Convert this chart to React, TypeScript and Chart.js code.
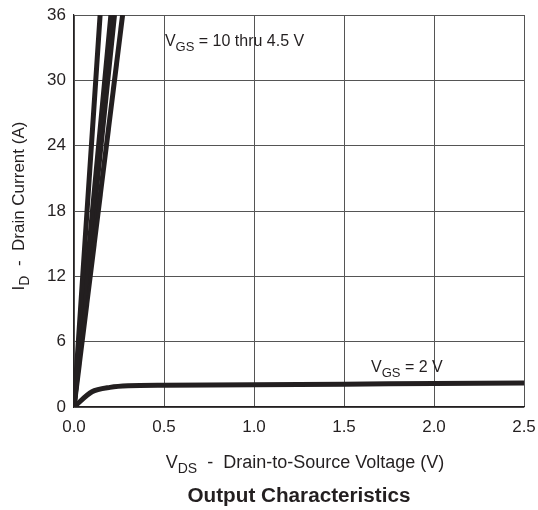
import React, { useEffect, useRef } from "react";
import { Chart, registerables } from "chart.js";

Chart.register(...registerables);

// Steep curves (VGS = 10 thru 4.5 V): drain voltage at which each reaches 36 A
const steepVds = [0, 0.145];
const steepVds2 = [0, 0.205];
const steepVds3 = [0, 0.225];
const steepVds4 = [0, 0.27];
const steepId = [0, 36];

// VGS = 2 V curve
const lowVds = [0, 0.1, 0.2, 0.3, 0.5, 1.0, 1.5, 2.0, 2.5];
const lowId = [0, 1.4, 1.8, 1.95, 2.0, 2.05, 2.1, 2.15, 2.2];

const xTicks = [0, 0.5, 1.0, 1.5, 2.0, 2.5];
const yTicks = [0, 6, 12, 18, 24, 30, 36];

const INK = "#231f20";
const FONT = "'Liberation Sans', Arial, Helvetica, sans-serif";

function pts(xs: number[], ys: number[]) {
  return xs.map((x, i) => ({ x, y: ys[i] }));
}

function drawSub(
  ctx: CanvasRenderingContext2D,
  x: number,
  y: number,
  main: string,
  sub: string,
  rest: string,
  size: number
) {
  ctx.font = `${size}px ${FONT}`;
  ctx.fillText(main, x, y);
  let w = ctx.measureText(main).width;
  ctx.font = `${Math.round(size * 0.8)}px ${FONT}`;
  ctx.fillText(sub, x + w, y + size * 0.3);
  w += ctx.measureText(sub).width;
  ctx.font = `${size}px ${FONT}`;
  ctx.fillText(rest, x + w, y);
}

function measureSub(ctx: CanvasRenderingContext2D, main: string, sub: string, rest: string, size: number) {
  ctx.font = `${size}px ${FONT}`;
  let w = ctx.measureText(main).width + ctx.measureText(rest).width;
  ctx.font = `${Math.round(size * 0.8)}px ${FONT}`;
  w += ctx.measureText(sub).width;
  return w;
}

const textPlugin = {
  id: "texts",
  afterDraw(chart: any) {
    const ctx: CanvasRenderingContext2D = chart.ctx;
    const xs = chart.scales.x;
    const ys = chart.scales.y;
    const area = chart.chartArea;
    ctx.save();
    ctx.fillStyle = INK;
    ctx.textBaseline = "alphabetic";
    ctx.textAlign = "left";
    // annotations
    drawSub(ctx, xs.getPixelForValue(0.505), ys.getPixelForValue(33.15), "V", "GS", " = 10 thru 4.5 V", 16);
    drawSub(ctx, xs.getPixelForValue(1.65), ys.getPixelForValue(3.2), "V", "GS", " = 2 V", 16);

    // x axis title
    const cx = (area.left + area.right) / 2;
    const xt = ["V", "DS", "  -  Drain-to-Source Voltage (V)"] as const;
    const wx = measureSub(ctx, xt[0], xt[1], xt[2], 18);
    drawSub(ctx, cx - wx / 2 + 6, 468, xt[0], xt[1], xt[2], 18);

    // y axis title
    const cy = (area.top + area.bottom) / 2 - 5;
    const yt = ["I", "D", "  -  Drain Current (A)"] as const;
    const wy = measureSub(ctx, yt[0], yt[1], yt[2], 17);
    ctx.save();
    ctx.translate(24, cy);
    ctx.rotate(-Math.PI / 2);
    drawSub(ctx, -wy / 2, 0, yt[0], yt[1], yt[2], 17);
    ctx.restore();

    // chart title
    ctx.font = `bold 20.7px ${FONT}`;
    ctx.textAlign = "center";
    ctx.fillText("Output Characteristics", cx, 502);
    ctx.restore();
  },
};

export default function App() {
  const ref = useRef<HTMLCanvasElement>(null);
  useEffect(() => {
    document.body.style.margin = "0";
    const lineDs = (data: { x: number; y: number }[]) => ({
      data,
      borderColor: INK,
      borderWidth: 5,
      pointRadius: 0,
      showLine: true,
      fill: false,
      tension: 0.3,
    });
    const chart = new Chart(ref.current!, {
      type: "scatter",
      data: {
        datasets: [
          lineDs(pts(steepVds, steepId)),
          lineDs(pts(steepVds2, steepId)),
          lineDs(pts(steepVds3, steepId)),
          lineDs(pts(steepVds4, steepId)),
          lineDs(pts(lowVds, lowId)),
        ],
      },
      options: {
        animation: false,
        responsive: false,
        maintainAspectRatio: false,
        layout: { padding: { left: 0, top: 15, right: 14, bottom: 0 } },
        plugins: { legend: { display: false }, tooltip: { enabled: false }, title: { display: false } },
        scales: {
          x: {
            type: "linear",
            min: 0,
            max: 2.5,
            afterFit: (s: any) => {
              s.height = 103;
              s.paddingLeft = 0;
              s.paddingRight = 0;
            },
            afterBuildTicks: (s: any) => {
              s.ticks = xTicks.map((v) => ({ value: v }));
            },
            grid: { color: "#555", lineWidth: 1, drawTicks: false },
            border: { color: INK, width: 1.2 },
            ticks: {
              color: INK,
              font: { family: FONT, size: 17 },
              padding: 10,
              maxRotation: 0,
              callback: (v: any) => Number(v).toFixed(1),
            },
          },
          y: {
            type: "linear",
            min: 0,
            max: 36,
            afterFit: (s: any) => {
              s.width = 74;
              s.paddingTop = 0;
              s.paddingBottom = 0;
            },
            afterBuildTicks: (s: any) => {
              s.ticks = yTicks.map((v) => ({ value: v }));
            },
            grid: { color: "#555", lineWidth: 1, drawTicks: false },
            border: { color: INK, width: 1.2 },
            ticks: {
              color: INK,
              font: { family: FONT, size: 17 },
              padding: 8,
              callback: (v: any) => String(v),
            },
          },
        },
      },
      plugins: [textPlugin],
    } as any);
    return () => chart.destroy();
  }, []);
  return (
    <div style={{ position: "absolute", left: 0, top: 0, width: 538, height: 510 }}>
      <canvas ref={ref} width={538} height={510} style={{ width: 538, height: 510 }} />
    </div>
  );
}
